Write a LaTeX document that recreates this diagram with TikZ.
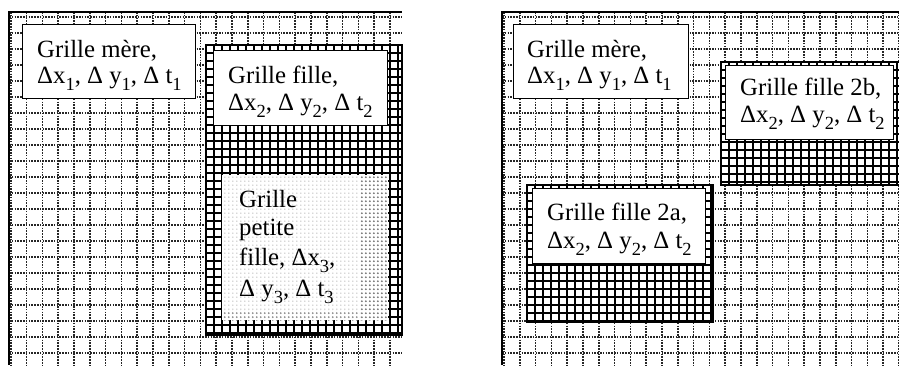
\documentclass[tikz,border=0pt]{standalone}
\usepackage{fontspec}
\setmainfont{Liberation Serif}
\usetikzlibrary{patterns.meta}
\newcommand\sbs[1]{\raisebox{-0.32em}{\fontsize{18.5}{18.5}\selectfont #1}}
\tikzdeclarepattern{
  name=stiplight,
  type=uncolored,
  bounding box={(0pt,0pt) and (4.3pt,4.3pt)},
  tile size={(4.3pt,4.3pt)},
  code={\fill (2.15pt,2.15pt) circle (0.75pt);}
}
\tikzdeclarepattern{
  name=stipdark,
  type=uncolored,
  bounding box={(0pt,0pt) and (4.3pt,4.3pt)},
  tile size={(4.3pt,4.3pt)},
  code={\fill (2.15pt,2.15pt) circle (1.15pt);}
}
\tikzset{
 coarse/.style={black!85, line width=1.6pt, dash pattern=on 1.5pt off 1.3pt},
 fine/.style={black, line width=2.4pt},
 frameline/.style={black, line width=1.5pt},
 lbl/.style={draw=black, line width=0.9pt, fill=white, inner sep=0pt, anchor=north west},
 txt/.style={inner sep=0pt, anchor=base west, font=\fontsize{24.8}{26}\selectfont},
}
\begin{document}
\begin{tikzpicture}[x=1pt,y=-1pt]
\useasboundingbox (0,0) rectangle (899,365);
% ---------- left panel coarse grid
\begin{scope}
 \clip (9,12) rectangle (402,365);
 \foreach \i in {0,...,25} \draw[coarse] ({10.8+15.8*\i},12) -- ++(0,353);
 \foreach \j in {0,...,21} \draw[coarse] (9,{16.7+16*\j}) -- (402,{16.7+16*\j});
\end{scope}
% ---------- right panel coarse grid
\begin{scope}
 \clip (502,12) rectangle (899,365);
 \foreach \i in {0,...,25} \draw[coarse] ({504+15.8*\i},12) -- ++(0,353);
 \foreach \j in {0,...,21} \draw[coarse] (502,{16.7+16*\j}) -- (899,{16.7+16*\j});
\end{scope}
% ---------- frames
\draw[frameline] (9,365) -- (9,12) -- (402,12);
\draw[frameline] (502,365) -- (502,12) -- (899,12);
% ---------- left fille fine grid
\fill[white] (206,45) rectangle (402,335);
\begin{scope}
 \clip (206,45) rectangle (402,335);
 \foreach \i in {0,...,25} \draw[fine] ({206+8*\i},45) -- ++(0,290);
 \foreach \j in {0,...,37} \draw[fine] (206,{45+8*\j}) -- ++(196,0);
\end{scope}
\draw[fine] (206,45) rectangle (402,335);
% ---------- petite fille stipple
\fill[white] (222,175) rectangle (388,320);
\fill[pattern={stiplight}, pattern color=black!30] (222,175) rectangle (388,320);
\fill[white] (360,175) rectangle (388,320);
\fill[pattern={stipdark}, pattern color=black!55] (360,175) rectangle (388,320);
\fill[white] (222,310) rectangle (360,320);
\fill[pattern={stipdark}, pattern color=black!45] (222,310) rectangle (360,320);
% ---------- fille 2b
\fill[white] (721,62) rectangle (899,185);
\begin{scope}
 \clip (721,62) rectangle (899,185);
 \foreach \i in {0,...,23} \draw[fine] ({721+8*\i},62) -- ++(0,123);
 \foreach \j in {0,...,16} \draw[fine] (721,{62+8*\j}) -- ++(178,0);
\end{scope}
\draw[fine] (899,185) -- (721,185) -- (721,62) -- (899,62);
% ---------- fille 2a
\fill[white] (527,185) rectangle (713,322);
\begin{scope}
 \clip (527,185) rectangle (713,322);
 \foreach \i in {0,...,24} \draw[fine] ({527+8*\i},185) -- ++(0,137);
 \foreach \j in {0,...,18} \draw[fine] (527,{185+8*\j}) -- ++(186,0);
\end{scope}
\draw[fine] (527,185) rectangle (713,322);
% ---------- labels left
\node[lbl, minimum width=173pt, minimum height=74pt] (m1) at (22,24) {};
\node[txt] (m1a) at (37,57) {Grille mère,};
\node[txt] (m1b) at (37,83) {Δx\sbs{1}, Δ y\sbs{1}, Δ t\sbs{1}};
\node[lbl, minimum width=174pt, minimum height=75pt] (f1) at (213,50) {};
\node[txt] (f1a) at (228,83) {Grille fille,};
\node[txt] (f1b) at (228,110) {Δx\sbs{2}, Δ y\sbs{2}, Δ t\sbs{2}};
\node[txt] (p1) at (239,207) {Grille};
\node[txt] (p2) at (239,235) {petite};
\node[txt] (p3) at (239,265) {fille, Δx\sbs{3},};
\node[txt] (p4) at (239,296) {Δ y\sbs{3}, Δ t\sbs{3}};
% ---------- labels right
\node[lbl, minimum width=175pt, minimum height=74pt] (m2) at (513,24) {};
\node[txt] (m2a) at (527,57) {Grille mère,};
\node[txt] (m2b) at (527,83) {Δx\sbs{1}, Δ y\sbs{1}, Δ t\sbs{1}};
\node[lbl, minimum width=168pt, minimum height=74pt] (b2) at (725,65) {};
\node[txt] (b2a) at (740,95) {Grille fille 2b,};
\node[txt] (b2b) at (740,122) {Δx\sbs{2}, Δ y\sbs{2}, Δ t\sbs{2}};
\node[lbl, minimum width=173pt, minimum height=75pt] (a2) at (532,188) {};
\node[txt] (a2a) at (547,220) {Grille fille 2a,};
\node[txt] (a2b) at (547,248) {Δx\sbs{2}, Δ y\sbs{2}, Δ t\sbs{2}};
\end{tikzpicture}
\end{document}
